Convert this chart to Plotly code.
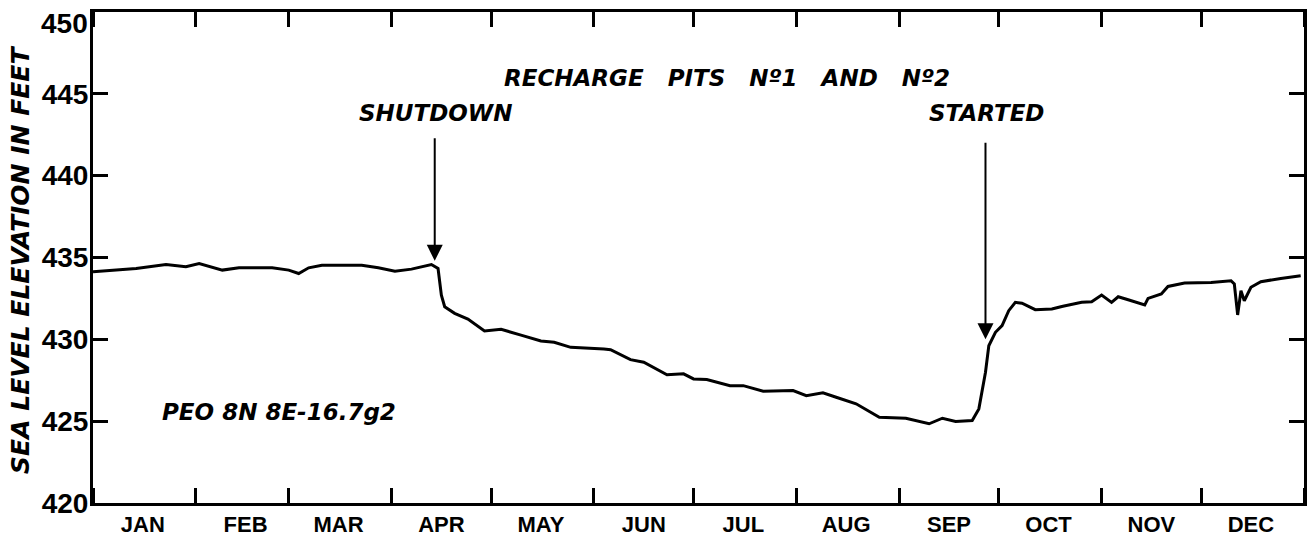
import plotly.graph_objects as go

# Daily water-level trace, recharge pits No. 1 and No. 2
dates = [
    "1951-01-01", "1951-01-10", "1951-01-14", "1951-01-23", "1951-01-29",
    "1951-02-02", "1951-02-09", "1951-02-14", "1951-02-24",
    "1951-03-01", "1951-03-04", "1951-03-07", "1951-03-11", "1951-03-23", "1951-03-28",
    "1951-04-02", "1951-04-07", "1951-04-13", "1951-04-15", "1951-04-16", "1951-04-17",
    "1951-04-20", "1951-04-24", "1951-04-29",
    "1951-05-04", "1951-05-10", "1951-05-16", "1951-05-20", "1951-05-25",
    "1951-06-04", "1951-06-06", "1951-06-12", "1951-06-16", "1951-06-23", "1951-06-28",
    "1951-07-01", "1951-07-05", "1951-07-12", "1951-07-16", "1951-07-22", "1951-07-31",
    "1951-08-04", "1951-08-09", "1951-08-13", "1951-08-19", "1951-08-26",
    "1951-09-03", "1951-09-10", "1951-09-14", "1951-09-18", "1951-09-23", "1951-09-25",
    "1951-09-27", "1951-09-28", "1951-09-30",
    "1951-10-02", "1951-10-04", "1951-10-06", "1951-10-08", "1951-10-12", "1951-10-17",
    "1951-10-20", "1951-10-26", "1951-10-29",
    "1951-11-01", "1951-11-04", "1951-11-06", "1951-11-09", "1951-11-14", "1951-11-15",
    "1951-11-19", "1951-11-21", "1951-11-26",
    "1951-12-04", "1951-12-10", "1951-12-11", "1951-12-12", "1951-12-13", "1951-12-14",
    "1951-12-16", "1951-12-19", "1951-12-25", "1951-12-31",
]
levels = [
    434.13, 434.29, 434.33, 434.57, 434.43,
    434.63, 434.23, 434.37, 434.37,
    434.23, 434.02, 434.37, 434.53, 434.53, 434.37,
    434.16, 434.29, 434.57, 434.33, 432.70, 431.99,
    431.59, 431.24, 430.51,
    430.61, 430.26, 429.90, 429.82, 429.51,
    429.41, 429.37, 428.76, 428.60, 427.83, 427.89,
    427.58, 427.54, 427.17, 427.17, 426.83, 426.87,
    426.56, 426.73, 426.46, 426.06, 425.24,
    425.18, 424.84, 425.18, 424.98, 425.04, 425.75,
    427.99, 429.61, 430.43,
    430.84, 431.75, 432.26, 432.21, 431.81, 431.85,
    432.01, 432.26, 432.30,
    432.71, 432.26, 432.60, 432.42, 432.10, 432.50,
    432.77, 433.23, 433.44,
    433.48, 433.58, 433.38, 431.49, 432.97, 432.36,
    433.18, 433.52, 433.72, 433.88,
]

month_starts = [f"1951-{m:02d}-01" for m in range(1, 13)] + ["1952-01-01"]
month_mids = [f"1951-{m:02d}-16" for m in range(1, 13)]
month_labels = ["JAN", "FEB", "MAR", "APR", "MAY", "JUN",
                "JUL", "AUG", "SEP", "OCT", "NOV", "DEC"]
y_ticks = [420, 425, 430, 435, 440, 445, 450]
y_max = y_ticks[-1]
# the top value is lettered just below its tick, so it is drawn on its own
y_ticktext = [str(v) for v in y_ticks[:-1]] + [""]

# Pit events marked with arrows
shutdown_date, shutdown_level = "1951-04-14", 434.8
started_date, started_level = "1951-09-27", 430.0

LABEL_FONT = dict(family="DejaVu Sans", size=23, color="black",
                  style="italic", weight="bold")
YTICK_FONT = dict(family="Liberation Sans", size=28, color="black", weight="bold")

fig = go.Figure()
fig.add_trace(go.Scatter(
    x=dates, y=levels, mode="lines",
    line=dict(color="black", width=3),
    hoverinfo="x+y", showlegend=False,
))

fig.update_layout(
    width=1310, height=538,
    margin=dict(l=93, r=6, t=12, b=35),
    paper_bgcolor="white", plot_bgcolor="white",
    xaxis=dict(
        type="date", automargin=False,
        range=["1951-01-01", "1952-01-01"],
        tickvals=month_mids, ticktext=month_labels,
        ticks="", showgrid=False, zeroline=False,
        showline=True, linewidth=3, linecolor="black", mirror="ticks",
        tickfont=dict(family="Liberation Sans", size=22, color="black", weight="bold"),
        ticklabelstandoff=0,
        minor=dict(tickvals=month_starts, ticks="inside", ticklen=15,
                   tickwidth=3, tickcolor="black", showgrid=False),
    ),
    yaxis=dict(
        range=[420, 450], automargin=False,
        tickvals=y_ticks, ticktext=y_ticktext,
        ticks="inside", ticklen=15, tickwidth=3, tickcolor="black",
        showgrid=False, zeroline=False,
        showline=True, linewidth=3, linecolor="black", mirror="ticks",
        tickfont=YTICK_FONT,
        ticklabelstandoff=-4,
    ),
)

annotations = [
    # vertical axis title
    dict(text="SEA LEVEL ELEVATION IN FEET", textangle=-90,
         xref="paper", yref="paper", x=-0.0595, y=0.495,
         xanchor="center", yanchor="middle", showarrow=False,
         font=dict(family="DejaVu Sans", size=25, color="black",
                   style="italic", weight="bold")),
    # top value of the elevation scale
    dict(text=str(y_max), xref="paper", yref="y", x=0, y=y_max,
         xanchor="right", yanchor="middle", xshift=-3, yshift=-11,
         showarrow=False, font=YTICK_FONT),
    dict(text="RECHARGE   PITS   Nº1   AND   Nº2",
         xref="paper", yref="paper", x=0.5235, y=0.866,
         xanchor="center", yanchor="middle", showarrow=False, font=LABEL_FONT),
    dict(text="SHUTDOWN",
         xref="paper", yref="paper", x=0.283, y=0.794,
         xanchor="center", yanchor="middle", showarrow=False, font=LABEL_FONT),
    dict(text="STARTED",
         xref="paper", yref="paper", x=0.7382, y=0.794,
         xanchor="center", yanchor="middle", showarrow=False, font=LABEL_FONT),
    dict(text="PEO 8N 8E-16.7g2",
         xref="paper", yref="paper", x=0.055, y=0.185,
         xanchor="left", yanchor="middle", showarrow=False, font=LABEL_FONT),
    # event arrows
    dict(x=shutdown_date, y=shutdown_level, xref="x", yref="y",
         text="", showarrow=True, ax=0, ay=-124,
         arrowhead=2, arrowsize=1.6, arrowwidth=2, arrowcolor="black"),
    dict(x=started_date, y=started_level, xref="x", yref="y",
         text="", showarrow=True, ax=0, ay=-198,
         arrowhead=2, arrowsize=1.6, arrowwidth=2, arrowcolor="black"),
]
fig.update_layout(annotations=annotations)

fig.write_html("out.html")
